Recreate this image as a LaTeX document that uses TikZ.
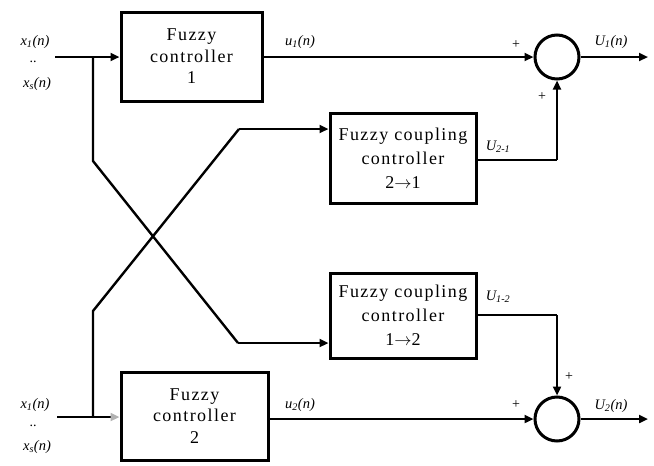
\documentclass[tikz,border=0pt]{standalone}
\usepackage{fontspec}
\setmainfont{Liberation Serif}
\usetikzlibrary{arrows.meta,calc}
\tikzset{
  blk/.style={draw,line width=3pt,align=center,inner sep=0pt,font=\fontsize{18}{21.5}\selectfont\addfontfeature{LetterSpace=8}},
  cblk/.style={blk,font=\fontsize{18}{24}\selectfont\addfontfeature{LetterSpace=8}},
  sumc/.style={draw,circle,line width=3pt,minimum size=44pt,inner sep=0pt},
  wire/.style={line width=2.4pt},
  arr/.style={wire,-{Triangle[length=9pt,width=8pt]}},
  garr/.style={wire,-{Triangle[length=9pt,width=8pt,color=gray!60]}},
  lab/.style={font=\fontsize{14.5}{16}\selectfont\itshape,inner sep=0pt},
  pl/.style={font=\fontsize{14}{14}\selectfont,inner sep=0pt}
}
\begin{document}
\begin{tikzpicture}[x=1pt,y=-1pt]
\useasboundingbox (0,0) rectangle (654,466);
% blocks
\node[blk,minimum width=141pt,minimum height=89pt] (fc1) at (191.5,56.5) {Fuzzy\\controller\\1};
\node[cblk,minimum width=146pt,minimum height=90pt] (cc21) at (403,158) {Fuzzy coupling\\controller\\2$\rightarrow$1};
\node[cblk,minimum width=146pt,minimum height=85pt] (cc12) at (403,315.5) {Fuzzy coupling\\controller\\1$\rightarrow$2};
\node[blk,minimum width=147pt,minimum height=88pt] (fc2) at (194.5,416) {Fuzzy\\controller\\2};
\node[sumc] (s1) at (557,57) {};
\node[sumc] (s2) at (557,419) {};
% coordinates
\coordinate (in1) at (55,57);
\coordinate (b1) at (93,57);
\coordinate (k1) at (93,161);
\coordinate (k2) at (238,343);
\coordinate (in2) at (57,417);
\coordinate (b2) at (93,417);
\coordinate (k3) at (93,311);
\coordinate (k4) at (239,129);
\coordinate (c1) at (557,160);
\coordinate (c2) at (557,315);
\coordinate (o1) at (648,57);
\coordinate (o2) at (648,419);
% wires
\draw[arr] (in1) -- (fc1.west |- in1);
\draw[wire] (b1) -- (k1) -- (k2);
\draw[arr] (k2) -- (cc12.west |- k2);
\draw[garr] (in2) -- (fc2.west |- in2);
\draw[wire] (b2) -- (k3) -- (k4);
\draw[arr] (k4) -- (cc21.west |- k4);
\draw[arr] (fc1.east |- s1) -- (s1.west);
\draw[wire] (cc21.east |- c1) -- (c1);
\draw[arr] (c1) -- (s1.south);
\draw[arr] (s1.east) -- (o1);
\draw[wire] (cc12.east |- c2) -- (c2);
\draw[arr] (c2) -- (s2.north);
\draw[arr] (fc2.east |- s2) -- (s2.west);
\draw[arr] (s2.east) -- (o2);
% labels
\node[lab] (lx1) at (35,42) {x\textsubscript{1}(n)};
\node[pl] (ld1) at (33,62) {..};
\node[lab] (lxs) at (37,84) {x\textsubscript{s}(n)};
\node[lab] (lx1b) at (35,405) {x\textsubscript{1}(n)};
\node[pl] (ld2) at (33,426) {..};
\node[lab] (lxsb) at (37,447) {x\textsubscript{s}(n)};
\node[lab] (lu1) at (300,42) {u\textsubscript{1}(n)};
\node[lab] (lu2) at (300,405) {u\textsubscript{2}(n)};
\node[lab] (lU1) at (611,42) {U\textsubscript{1}(n)};
\node[lab] (lU2) at (611,406) {U\textsubscript{2}(n)};
\node[lab] (lU21) at (498,147) {U\textsubscript{2-1}};
\node[lab] (lU12) at (498,297) {U\textsubscript{1-2}};
\node[pl] (p1) at (516,45) {+};
\node[pl] (p2) at (542,97) {+};
\node[pl] (p3) at (569,377) {+};
\node[pl] (p4) at (516,405) {+};
\end{tikzpicture}
\end{document}
